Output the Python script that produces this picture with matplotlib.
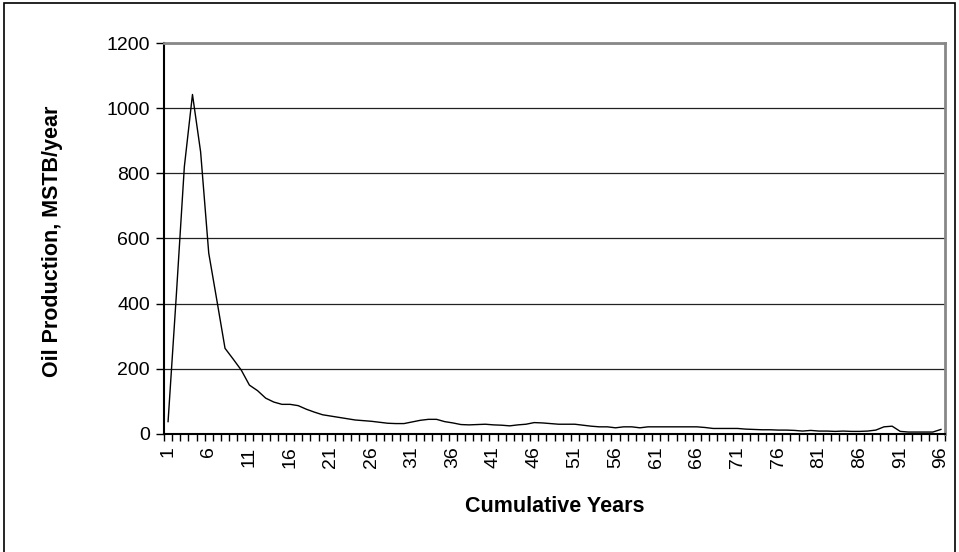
import matplotlib.pyplot as plt
import numpy as np
from matplotlib.patches import Rectangle

plt.rcParams['font.family'] = ['Liberation Sans', 'DejaVu Sans']

# 年ごとの原油生産量 (MSTB/year)
years = np.arange(1, 97)
oil = [38, 420, 820, 1042, 866, 555, 410, 263, 230, 196,
       150, 133, 110, 98, 91, 91, 87, 76, 67, 59,
       55, 51, 47, 43, 41, 39, 36, 33, 32, 32,
       37, 42, 45, 45, 38, 34, 29, 28, 29, 30,
       28, 27, 25, 28, 30, 35, 34, 32, 30, 30,
       30, 27, 24, 22, 22, 19, 22, 22, 19, 22,
       22, 22, 22, 22, 22, 22, 20, 17, 17, 17,
       17, 15, 14, 13, 13, 12, 12, 11, 9, 11,
       9, 9, 8, 9, 8, 8, 9, 12, 22, 24,
       8, 6, 6, 6, 6, 14]
label_years = np.arange(1, 97, 5)
y_ticks = [0, 200, 400, 600, 800, 1000, 1200]

fig = plt.figure(figsize=(9.59, 5.52), dpi=100)
ax = fig.add_axes([164 / 959, 1 - 434 / 552, 781 / 959, 391 / 552])

# 外枠
fig.patches.append(Rectangle((4 / 959, -0.01), 951 / 959, 1.004,
                             transform=fig.transFigure, fill=False,
                             edgecolor='black', linewidth=1.2))

ax.plot(years, oil, color='black', linewidth=1.0)

ax.set_xlim(0.5, 96.5)
ax.set_ylim(0, 1200)
ax.set_yticks(y_ticks)
ax.yaxis.grid(True, color='#222222', linewidth=0.9)
ax.set_axisbelow(True)

# カテゴリ境界の目盛り
ax.set_xticks(np.arange(0.5, 97, 1))
ax.set_xticklabels([])
ax.set_xticks(label_years, minor=True)
ax.set_xticklabels([str(v) for v in label_years], minor=True, rotation=90, fontsize=14)
ax.tick_params(axis='x', which='major', direction='out', length=5, width=1, color='black')
ax.tick_params(axis='x', which='minor', length=0, pad=9)
ax.tick_params(axis='y', direction='out', length=6, width=1, labelsize=14, pad=4)

ax.spines['left'].set_linewidth(1.5)
ax.spines['bottom'].set_linewidth(1.5)
ax.spines['top'].set_color('#888888')
ax.spines['top'].set_linewidth(2)
ax.spines['right'].set_color('#888888')
ax.spines['right'].set_linewidth(2)

ax.set_xlabel('Cumulative Years', fontsize=15.5, fontweight='bold')
ax.set_ylabel('Oil Production, MSTB/year', fontsize=15.5, fontweight='bold')
ax.xaxis.set_label_coords((555 - 164) / 781, (434 - 496) / 391)
ax.yaxis.set_label_coords((63 - 164) / 781, 0.5 - 2.5 / 391)

fig.savefig('out.png', dpi=100)
